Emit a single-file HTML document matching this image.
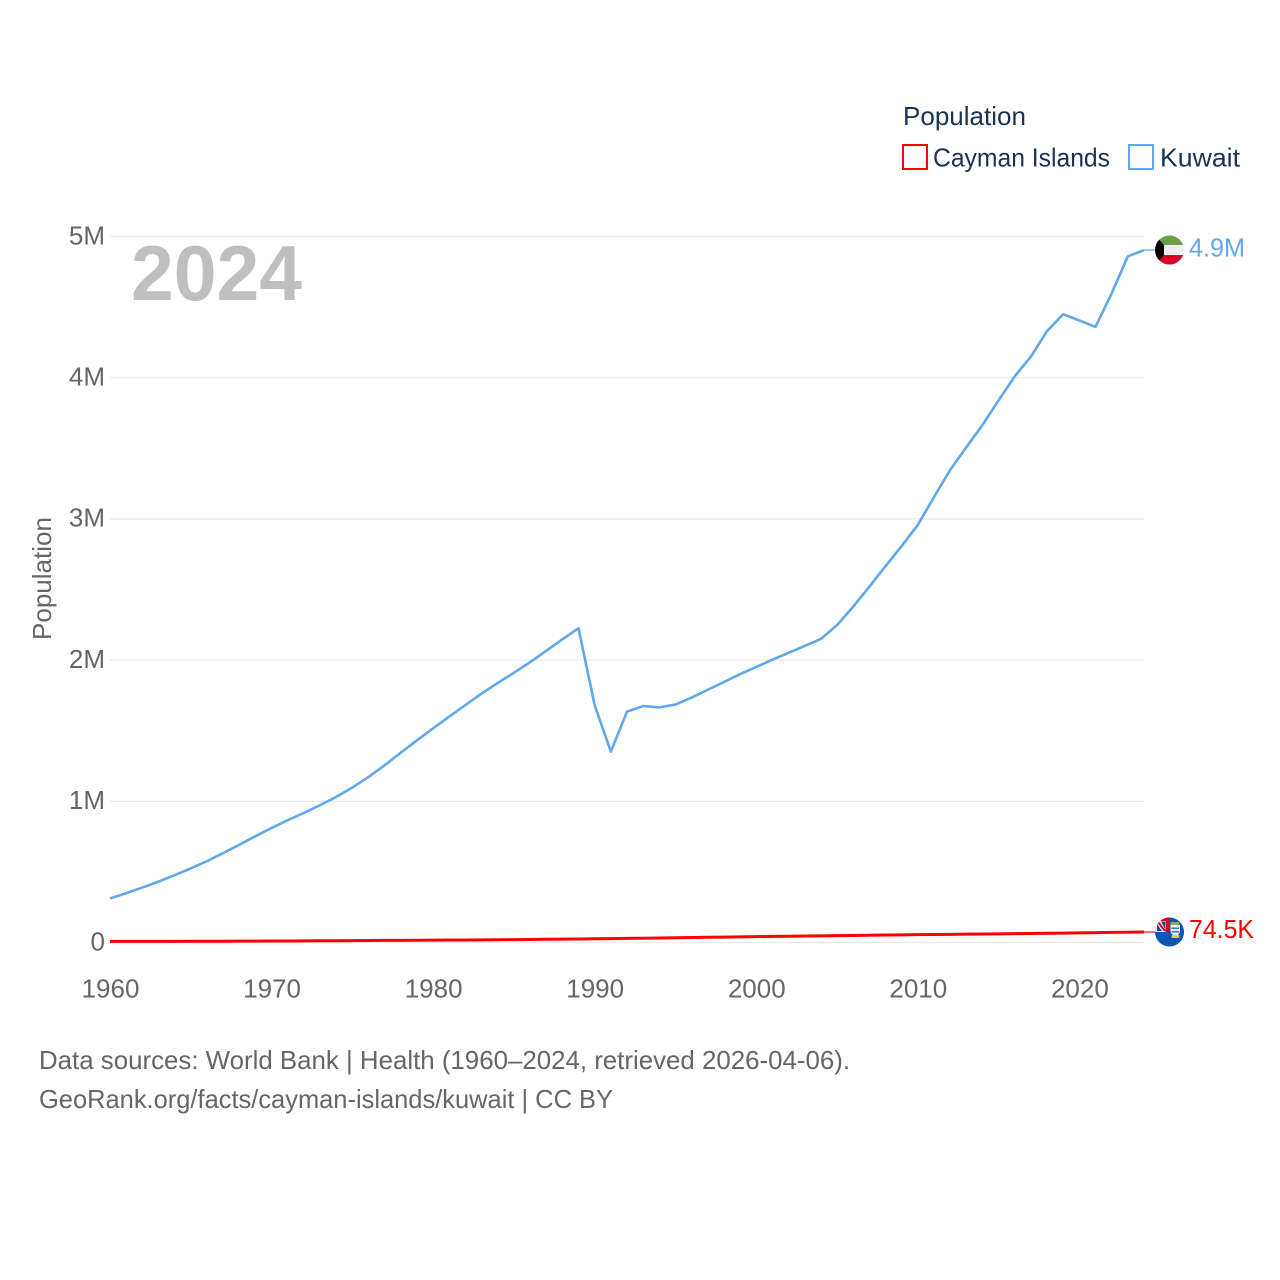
<!DOCTYPE html>
<html lang="en">
<head>
<meta charset="utf-8">
<title>Population: Cayman Islands and Kuwait</title>
<style>
html,body{margin:0;padding:0;background:#fff;width:1280px;height:1280px;overflow:hidden}
svg{display:block}
text{font-family:"Liberation Sans",sans-serif}
</style>
</head>
<body>
<svg id="chart" width="1280" height="1280" viewBox="0 0 1280 1280" xmlns="http://www.w3.org/2000/svg">
  <defs>
    <clipPath id="clip-kuwait"><circle id="clip-kuwait-circle" cx="1169.5" cy="250" r="14.5"/></clipPath>
    <clipPath id="clip-cayman"><circle id="clip-cayman-circle" cx="1169.5" cy="931.5" r="14.5"/></clipPath>
  </defs>
  <g id="grid"></g>
  <g id="yticks"></g>
  <g id="xticks"></g>
  <text x="131" y="300" font-size="78" font-weight="700" fill="#bfbfbf" textLength="171" lengthAdjust="spacingAndGlyphs">2024</text>
  <text transform="translate(51,640) rotate(-90)" font-size="26" fill="#666666" textLength="123" lengthAdjust="spacingAndGlyphs">Population</text>
  <g id="series"></g>
  <g id="flag-kuwait"></g>
  <g id="flag-cayman"></g>
  <g id="end-labels"></g>

  <text x="903" y="125" font-size="26" fill="#1a3354" textLength="123" lengthAdjust="spacingAndGlyphs">Population</text>
  <g>
    <rect x="903" y="145" width="24" height="24" fill="#fff" stroke="#ff0000" stroke-width="2"/>
    <text x="933" y="166.5" font-size="26" fill="#1a3354" textLength="177" lengthAdjust="spacingAndGlyphs">Cayman Islands</text>
  </g>
  <g>
    <rect x="1129" y="145" width="24" height="24" fill="#fff" stroke="#5fa8ee" stroke-width="2"/>
    <text x="1160" y="166.5" font-size="26" fill="#1a3354" textLength="80" lengthAdjust="spacingAndGlyphs">Kuwait</text>
  </g>

  <text x="39" y="1069" font-size="26" fill="#666666" textLength="811" lengthAdjust="spacingAndGlyphs">Data sources: World Bank | Health (1960–2024, retrieved 2026-04-06).</text>
  <text x="39" y="1108" font-size="26" fill="#666666" textLength="574" lengthAdjust="spacingAndGlyphs">GeoRank.org/facts/cayman-islands/kuwait | CC BY</text>
</svg>
<script>
const startYear = 1960;
const xTickYears = [1960, 1970, 1980, 1990, 2000, 2010, 2020];
const yTickValues = [0, 1, 2, 3, 4, 5];
const yTickLabels = ['0', '1M', '2M', '3M', '4M', '5M'];
const kuwaitValues = [0.312, 0.349, 0.389, 0.431, 0.477, 0.525, 0.576, 0.633, 0.692, 0.753, 0.811, 0.866, 0.918, 0.973, 1.031, 1.097, 1.172, 1.255, 1.345, 1.432, 1.517, 1.6, 1.682, 1.763, 1.838, 1.91, 1.985, 2.066, 2.147, 2.225, 1.68, 1.352, 1.635, 1.675, 1.665, 1.685, 1.735, 1.79, 1.845, 1.9, 1.952, 2.003, 2.052, 2.1, 2.15, 2.248, 2.378, 2.52, 2.665, 2.808, 2.957, 3.155, 3.346, 3.507, 3.665, 3.84, 4.01, 4.15, 4.33, 4.45, 4.405, 4.36, 4.598, 4.859, 4.904];
const caymanValues = [0.0077, 0.0078, 0.0079, 0.0081, 0.0083, 0.0085, 0.0088, 0.0091, 0.0094, 0.0098, 0.0102, 0.0108, 0.0114, 0.012, 0.0127, 0.0135, 0.0141, 0.0148, 0.0154, 0.016, 0.0167, 0.0174, 0.0181, 0.0188, 0.0196, 0.0205, 0.0216, 0.0228, 0.024, 0.0252, 0.0265, 0.0277, 0.0291, 0.0305, 0.032, 0.0335, 0.0352, 0.0368, 0.0384, 0.04, 0.0415, 0.043, 0.0443, 0.0456, 0.047, 0.0485, 0.05, 0.0515, 0.053, 0.0543, 0.0555, 0.0567, 0.0579, 0.059, 0.0603, 0.0615, 0.0628, 0.064, 0.0652, 0.0668, 0.0685, 0.07, 0.0715, 0.073, 0.0745];

const svgNS = 'http://www.w3.org/2000/svg';
const x = year => 110 + (year - 1960) * (1144 - 110) / 64;
const y = value => 942.5 - value * 141.2;

function el(tag, attrs, parent, content) {
  const node = document.createElementNS(svgNS, tag);
  for (const key in attrs) node.setAttribute(key, attrs[key]);
  if (content !== undefined) node.textContent = content;
  parent.appendChild(node);
  return node;
}
function formatValue(v) {
  return v >= 1 ? v.toFixed(1) + 'M' : (v * 1000).toFixed(1) + 'K';
}

const grid = document.getElementById('grid');
const yticks = document.getElementById('yticks');
const xticks = document.getElementById('xticks');
yTickValues.forEach((v, i) => {
  const line = el('line', {x1: 110, x2: 1144, y1: y(v), y2: y(v), stroke: '#e8e8e8', 'stroke-width': 1.2}, grid);
  
  
  const label = el('text', {x: 105, y: y(v) + 7.8, 'text-anchor': 'end', 'font-size': 26, fill: '#666666'}, yticks, yTickLabels[i]);
  
  
});
xTickYears.forEach(year => {
  const label = el('text', {x: x(year) + 0.5, y: 997.5, 'text-anchor': 'middle', 'font-size': 26, fill: '#666666'}, xticks, String(year));
  
  
});

const series = document.getElementById('series');
const endLabels = document.getElementById('end-labels');
function drawSeries(values, color, width, name, labelName, labelLength, labelDy) {
  const d = values.map((v, i) => (i ? 'L' : 'M') + x(startYear + i).toFixed(2) + ' ' + y(v).toFixed(2)).join(' ');
  const path = el('path', {d: d, fill: 'none', stroke: color, 'stroke-width': width, 'stroke-linejoin': 'round'}, series);
  
  
  const last = values[values.length - 1];
  const lastX = x(startYear + values.length - 1);
  const connector = el('line', {x1: lastX, x2: 1156, y1: y(last), y2: y(last), stroke: color, 'stroke-width': 1.2}, series);
  
  
  const label = el('text', {x: 1189, y: y(last) + labelDy, 'font-size': 26, fill: color, textLength: labelLength, lengthAdjust: 'spacingAndGlyphs'}, endLabels, formatValue(last));
  
  
}
drawSeries(caymanValues, '#ff0000', 3, 'cayman-islands-line', 'cayman-islands-end-label', 65, 6);
drawSeries(kuwaitValues, '#5fa8ee', 2.6, 'kuwait-line', 'kuwait-end-label', 56, 6.5);

const fx = 1155;
const ky = y(kuwaitValues[kuwaitValues.length - 1]);
const cy = y(caymanValues[caymanValues.length - 1]);
document.getElementById('clip-kuwait-circle').setAttribute('cy', ky);
document.getElementById('clip-cayman-circle').setAttribute('cy', cy);

const fk = document.getElementById('flag-kuwait');
fk.setAttribute('clip-path', 'url(#clip-kuwait)');
el('rect', {x: fx, y: ky - 15, width: 29, height: 10, fill: '#6a9e48'}, fk);
el('rect', {x: fx, y: ky - 5, width: 29, height: 10, fill: '#eeeeee'}, fk);
el('rect', {x: fx, y: ky + 5, width: 29, height: 10, fill: '#d80027'}, fk);
el('polygon', {points: `${fx},${ky - 15} ${fx + 9},${ky - 5} ${fx + 9},${ky + 5} ${fx},${ky + 15}`, fill: '#000000'}, fk);

const fc = document.getElementById('flag-cayman');
fc.setAttribute('clip-path', 'url(#clip-cayman)');
el('rect', {x: fx, y: cy - 15, width: 29, height: 30, fill: '#0a55b8'}, fc);
el('rect', {x: fx, y: cy - 15, width: 14.5, height: 15, fill: '#eeeeee'}, fc);
el('polygon', {points: `${fx + 6},${cy - 10.5} ${fx + 10},${cy - 10.5} ${fx + 10},${cy - 3}`, fill: '#1a4fa0'}, fc);
el('polygon', {points: `${fx + 2},${cy - 8} ${fx + 7},${cy - 1} ${fx + 2},${cy - 1}`, fill: '#1a4fa0'}, fc);
el('rect', {x: fx, y: cy - 15, width: 14.5, height: 4, fill: '#d80027'}, fc);
el('rect', {x: fx + 10.5, y: cy - 15, width: 4, height: 15, fill: '#d80027'}, fc);
el('line', {x1: fx + 3, y1: cy - 10, x2: fx + 10, y2: cy - 1, stroke: '#d80027', 'stroke-width': 2}, fc);
el('rect', {x: fx + 15.5, y: cy - 10, width: 9, height: 3, fill: '#8aa85a'}, fc);
el('path', {d: `M${fx + 15.5} ${cy - 7} h9.5 v6 q0 3.5 -4.7 5 q-4.8 -1.5 -4.8 -5 z`, fill: '#f0f0f0'}, fc);
el('rect', {x: fx + 16.5, y: cy - 4.5, width: 7.5, height: 1.6, fill: '#3f78c4'}, fc);
el('rect', {x: fx + 16.5, y: cy - 1, width: 7.5, height: 1.6, fill: '#3f78c4'}, fc);
el('rect', {x: fx + 16.5, y: cy + 3, width: 8, height: 3, rx: 1, fill: '#e6c84a'}, fc);
</script>
</body>
</html>
